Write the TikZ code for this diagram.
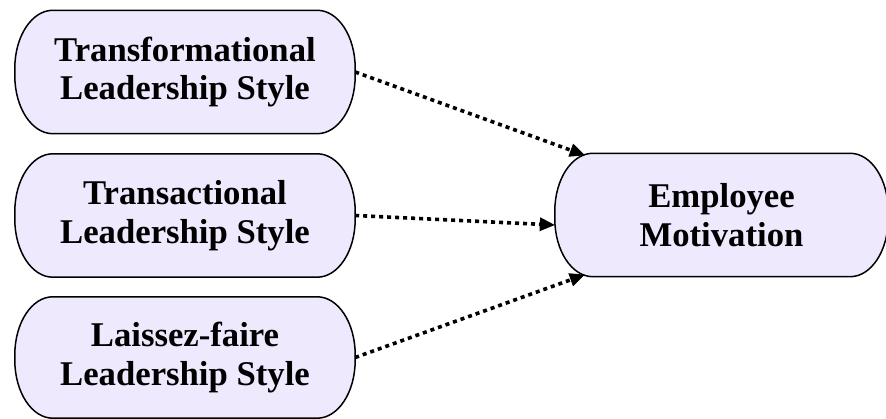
\documentclass[tikz,border=0pt]{standalone}
\usepackage{fontspec}
\setmainfont{Liberation Serif}
\usetikzlibrary{arrows.meta}
\definecolor{boxfill}{RGB}{239,233,253}
\tikzset{
  box/.style={rectangle, minimum width=340pt, minimum height=123pt, inner sep=0pt,
    align=center, font=\bfseries\fontsize{34.7}{38.5}\selectfont},
  capsule/.style={draw=black, line width=1.5pt, fill=boxfill},
  link/.style={line width=3.6pt, dash pattern=on 4pt off 4pt,
    -{Triangle[length=15pt,width=14pt,line width=0pt]}},
}
\newcommand{\capsuleshape}[1]{%
  \path[capsule] ([xshift=38pt]#1.north west) -- ([xshift=-38pt]#1.north east)
    arc[start angle=90,end angle=0,x radius=38pt,y radius=58pt]
    -- ([yshift=58pt]#1.south east)
    arc[start angle=0,end angle=-90,x radius=38pt,y radius=58pt]
    -- ([xshift=38pt]#1.south west)
    arc[start angle=270,end angle=180,x radius=38pt,y radius=58pt]
    -- ([yshift=-58pt]#1.north west)
    arc[start angle=180,end angle=90,x radius=38pt,y radius=58pt] -- cycle;}
\begin{document}
\begin{tikzpicture}[x=1pt,y=1pt]
\useasboundingbox (0,0) rectangle (886,419);
\node[box] (A) at (185,347) {};
\node[box] (B) at (185,203.5) {};
\node[box, minimum height=121pt] (C) at (185,61.5) {};
\node[box, minimum width=333pt] (D) at (721.5,204) {};
\capsuleshape{A}\capsuleshape{B}\capsuleshape{C}\capsuleshape{D}
\node[box] at (A) {Transformational\\Leadership Style};
\node[box] at (B) {Transactional\\Leadership Style};
\node[box] at (C) {Laissez-faire\\Leadership Style};
\node[box] at (D) {Employee\\Motivation};
\coordinate (d1) at ([xshift=30pt,yshift=-2pt]D.north west);
\coordinate (d2) at ([yshift=-10pt]D.west);
\coordinate (d3) at ([xshift=30pt,yshift=2pt]D.south west);
\draw[link] (A.east) -- (d1);
\draw[link] (B.east) -- (d2);
\draw[link] (C.east) -- (d3);
\end{tikzpicture}
\end{document}
